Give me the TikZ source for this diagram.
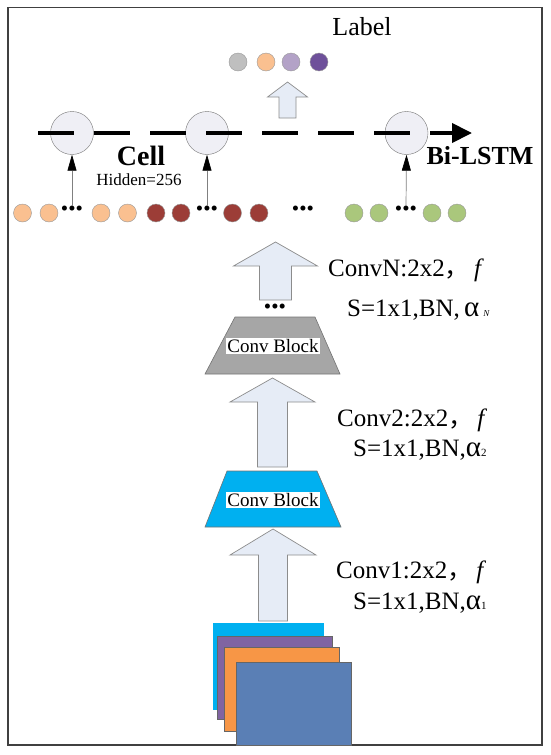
\documentclass[tikz,border=0pt]{standalone}
\usepackage{fontspec}
\setmainfont{Liberation Serif}
\newfontfamily\cjkfont{Noto Sans CJK SC}
\usetikzlibrary{arrows.meta,positioning}
\definecolor{peach}{HTML}{FAC090}
\definecolor{brick}{HTML}{9C3D37}
\definecolor{leaf}{HTML}{AAC77C}
\definecolor{lavender}{HTML}{B3A2C7}
\definecolor{plum}{HTML}{6E509A}
\definecolor{cellfill}{HTML}{EFEFF5}
\definecolor{arrowfill}{HTML}{E6ECF6}
\definecolor{skyblue}{HTML}{00B0F0}
\definecolor{mapviolet}{HTML}{8064A2}
\definecolor{maporange}{HTML}{F79646}
\definecolor{mapsteel}{HTML}{5A7FB5}

\tikzset{
  seqdot/.style={circle, draw=gray!80, inner sep=0pt, minimum size=18pt},
  cellnode/.style={circle, draw=gray!90!black, fill=cellfill, inner sep=0pt, minimum size=43pt},
  blockarrow/.style={draw=gray!90, fill=arrowfill, line width=0.7pt},
  trapez/.style={draw=gray!90!black, line width=0.6pt},
  ellip/.style={inner sep=0pt, font=\fontsize{21}{21}\selectfont},
  convtext/.style={anchor=west, inner sep=0pt, font=\fontsize{25}{28}\selectfont},
  blocklabel/.style={fill=white, inner sep=1.5pt, font=\fontsize{19}{19}\selectfont},
  featmap/.style={draw=black!60, line width=0.5pt},
}
% block arrow: x, top, head base, bottom, half head width, half shaft width
\newcommand{\uparrowblock}[6]{%
  \draw[blockarrow] (#1,#2) -- (#1+#5,#3) -- (#1+#6,#3) -- (#1+#6,#4)
    -- (#1-#6,#4) -- (#1-#6,#3) -- (#1-#5,#3) -- cycle;}

\begin{document}
\begin{tikzpicture}[x=1pt, y=-1pt]
  \useasboundingbox (0,0) rectangle (550,755);
  \draw[line width=1.6pt, black!75] (8,7.5) rectangle (542,745);

  % output label
  \node (labeltext) at (362,27) {\fontsize{26}{26}\selectfont Label};
  \node[seqdot, fill=gray!50] (out1) at (238,62) {};
  \node[seqdot, fill=peach] (out2) at (266,62) {};
  \node[seqdot, fill=lavender] (out3) at (291,62) {};
  \node[seqdot, fill=plum] (out4) at (319,62) {};
  \uparrowblock{287.5}{82}{97}{118}{20}{8.5}

  % Bi-LSTM cells
  \node[cellnode] (cell1) at (72,133) {};
  \node[cellnode] (cell2) at (207,133) {};
  \node[cellnode] (cell3) at (406.5,133) {};
  \coordinate (lstmstart) at (38,133);
  \coordinate (lstmgap) at (412,133);
  \coordinate (headstart) at (430,133);
  \coordinate (headend) at (472,133);
  \draw[line width=4pt, dash pattern=on 36pt off 20pt] (lstmstart) -- (lstmgap);
  \draw[line width=4pt, -{Triangle[length=20pt,width=19pt]}] (headstart) -- (headend);
  \node[font=\fontsize{28}{28}\selectfont\bfseries] (celltext) at (141,156) {Cell};
  \node[font=\fontsize{17}{17}\selectfont] (hiddentext) at (139,180) {Hidden=256};
  \node[font=\fontsize{26}{26}\selectfont\bfseries] (lstmtext) at (480,156) {Bi-LSTM};

  % input sequence
  \node[seqdot, fill=peach] (s1) at (22.5,213) {};
  \node[seqdot, fill=peach] (s2) at (49,213) {};
  \node[ellip] (d1) at (72,211) {•••};
  \node[seqdot, fill=peach] (s3) at (101,213) {};
  \node[seqdot, fill=peach] (s4) at (127.5,213) {};
  \node[seqdot, fill=brick] (s5) at (156,213) {};
  \node[seqdot, fill=brick] (s6) at (181,213) {};
  \node[ellip] (d2) at (207,211) {•••};
  \node[seqdot, fill=brick] (s7) at (232.5,213) {};
  \node[seqdot, fill=brick] (s8) at (259,213) {};
  \node[ellip] (d3) at (303,211) {•••};
  \node[seqdot, fill=leaf] (s9) at (354,213) {};
  \node[seqdot, fill=leaf] (s10) at (379,213) {};
  \node[ellip] (d4) at (406,211) {•••};
  \node[seqdot, fill=leaf] (s11) at (432,213) {};
  \node[seqdot, fill=leaf] (s12) at (457,213) {};
  \foreach \i/\j in {d1/cell1, d2/cell2, d4/cell3}
    \draw[gray, line width=0.7pt, -{Triangle[length=16pt,width=9pt,fill=black,color=black]}]
      (\i.north) -- (\j.south);

  % conv stack
  \uparrowblock{275.5}{242}{266}{300}{42}{16}
  \node[ellip] (convdots) at (275,309) {•••};
  \draw[trapez, fill=gray!70] (235,317) -- (315,317) -- (340,374) -- (205,374) -- cycle;
  \node[blocklabel] (blockN) at (273,346) {Conv Block};
  \uparrowblock{272.5}{378}{402}{467}{42.5}{15}
  \draw[trapez, fill=skyblue] (227,471) -- (317,471) -- (341,527) -- (205,527) -- cycle;
  \node[blocklabel] (block1) at (273,500) {Conv Block};
  \uparrowblock{273}{529}{555}{621}{43}{14.5}

  % input feature maps
  \draw[featmap, fill=skyblue, draw=skyblue] (213,623) rectangle (323,709);
  \draw[featmap, fill=mapviolet] (217,636) rectangle (332,719);
  \draw[featmap, fill=maporange] (224,647) rectangle (339,731);
  \draw[featmap, fill=mapsteel] (236,662) rectangle (351,745);

  % conv parameters
  \node[convtext] (convN) at (328,270) {ConvN:2x2{\cjkfont ，}\,\textit{f}};
  \node[convtext] (strideN) at (347,310) {S=1x1,BN,\,{\fontsize{29}{29}\selectfont α}\,{\fontsize{9}{9}\selectfont\textit{N}}};
  \node[convtext] (conv2) at (337,420) {Conv2:2x2{\cjkfont ，}\,\textit{f}};
  \node[convtext] (stride2) at (353,450) {S=1x1,BN,{\fontsize{29}{29}\selectfont α}{\fontsize{11}{11}\selectfont 2}};
  \node[convtext] (conv1) at (336,572) {Conv1:2x2{\cjkfont ，}\,\textit{f}};
  \node[convtext] (stride1) at (353,603) {S=1x1,BN,{\fontsize{29}{29}\selectfont α}{\fontsize{11}{11}\selectfont 1}};
\end{tikzpicture}
\end{document}
